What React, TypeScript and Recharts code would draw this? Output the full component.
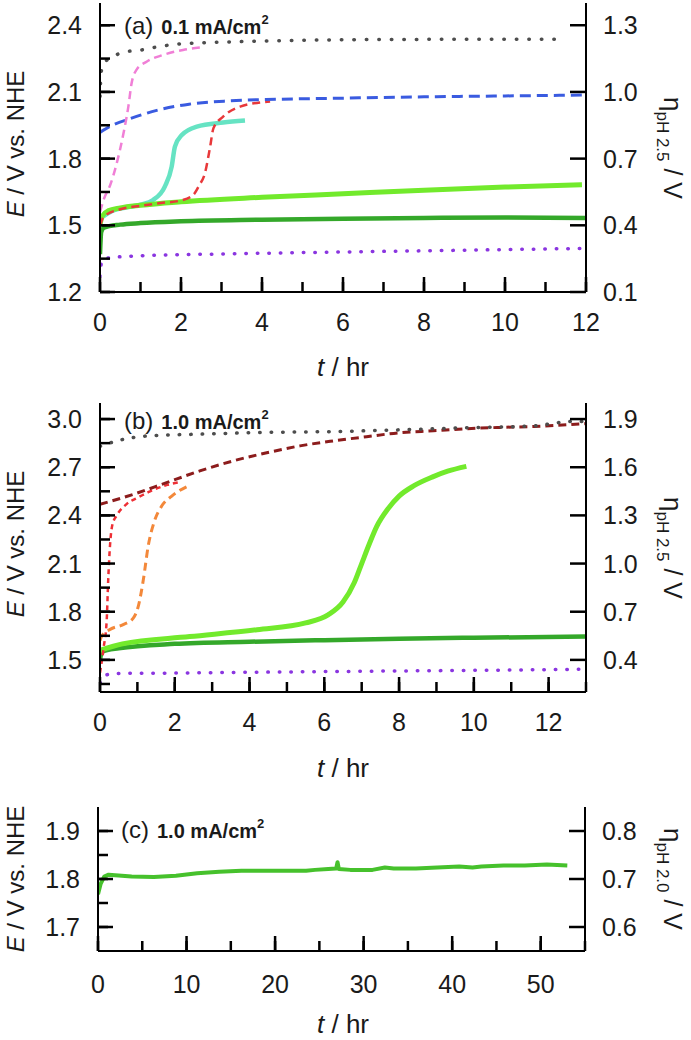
import React from 'react';
import { LineChart, Line, XAxis, YAxis } from 'recharts';

const FONT = '"Liberation Sans", Arial, Helvetica, sans-serif';
type Pt = [number, number];

// ---------- Panel (a) 0.1 mA/cm2 ----------
const aXTicks = [0, 1, 2, 3, 4, 5, 6, 7, 8, 9, 10, 11, 12];
const aXLabels = [0, 2, 4, 6, 8, 10, 12];
const aYTicks = [1.2, 1.35, 1.5, 1.65, 1.8, 1.95, 2.1, 2.25, 2.4];
const aYLabels = [1.2, 1.5, 1.8, 2.1, 2.4];
const aRTicks = [0.1, 0.4, 0.7, 1.0, 1.3];

const aGray: Pt[] = [[0, 2.08], [0.03, 2.19], [0.1, 2.23], [0.3, 2.256], [0.6, 2.28], [1.0, 2.288], [1.4, 2.302], [1.9, 2.315], [2.7, 2.322], [3.4, 2.326], [4.3, 2.33], [7.1, 2.336], [11.4, 2.337]];
const aPink: Pt[] = [[0, 1.56], [0.1, 1.62], [0.25, 1.68], [0.4, 1.77], [0.58, 1.914], [0.7, 2.034], [0.78, 2.139], [0.9, 2.199], [1.15, 2.236], [1.55, 2.266], [2.05, 2.289], [2.5, 2.3]];
const aBlue: Pt[] = [[0, 1.918], [0.3, 1.95], [0.75, 1.98], [1.4, 2.017], [2.2, 2.045], [3.2, 2.06], [4.4, 2.067], [6, 2.072], [8, 2.078], [10, 2.082], [12, 2.086]];
const aRed: Pt[] = [[0, 1.5], [0.1, 1.54], [0.5, 1.572], [1, 1.588], [1.5, 1.6], [2, 1.612], [2.3, 1.636], [2.45, 1.68], [2.59, 1.734], [2.72, 1.854], [2.8, 1.936], [3.04, 1.989], [3.46, 2.034], [4.2, 2.057]];
const aCyan: Pt[] = [[0, 1.53], [0.3, 1.565], [0.7, 1.582], [1.0, 1.593], [1.31, 1.614], [1.6, 1.674], [1.77, 1.764], [1.85, 1.854], [2.02, 1.906], [2.39, 1.944], [3.04, 1.962], [3.58, 1.971]];
const aLime: Pt[] = [[0, 1.5], [0.05, 1.54], [0.2, 1.565], [0.5, 1.578], [1, 1.59], [2, 1.606], [4, 1.626], [6, 1.642], [8, 1.658], [10, 1.672], [11.9, 1.682]];
const aGreen: Pt[] = [[0, 1.37], [0.03, 1.47], [0.1, 1.49], [0.5, 1.503], [1, 1.51], [2, 1.518], [4, 1.525], [6, 1.53], [8, 1.533], [10, 1.535], [12, 1.533]];
const aPurple: Pt[] = [[0, 1.27], [0.05, 1.345], [0.3, 1.355], [1, 1.363], [3, 1.371], [6, 1.38], [9, 1.388], [11.9, 1.396]];

// ---------- Panel (b) 1.0 mA/cm2 ----------
const bXTicks = [0, 1, 2, 3, 4, 5, 6, 7, 8, 9, 10, 11, 12, 13];
const bXLabels = [0, 2, 4, 6, 8, 10, 12];
const bYTicks = [1.35, 1.5, 1.65, 1.8, 1.95, 2.1, 2.25, 2.4, 2.55, 2.7, 2.85, 3.0];
const bYLabels = [1.5, 1.8, 2.1, 2.4, 2.7, 3.0];
const bRTicks = [0.4, 0.7, 1.0, 1.3, 1.6, 1.9];

const bGray: Pt[] = [[0, 2.83], [0.45, 2.864], [1.34, 2.896], [2.67, 2.906], [4.46, 2.917], [6.24, 2.922], [8.02, 2.933], [9.8, 2.946], [11.6, 2.958], [12.65, 2.985], [13, 2.985]];
const bMaroon: Pt[] = [[0, 2.469], [0.89, 2.531], [1.78, 2.604], [2.67, 2.677], [3.57, 2.74], [4.46, 2.79], [5.35, 2.833], [6.24, 2.864], [7.13, 2.89], [8.02, 2.915], [8.91, 2.927], [9.8, 2.94], [10.7, 2.948], [11.6, 2.954], [13, 2.972]];
const bRed: Pt[] = [[0, 1.42], [0.1, 1.58], [0.18, 1.75], [0.22, 2.0], [0.27, 2.22], [0.33, 2.34], [0.45, 2.4], [0.71, 2.47], [1.0, 2.51], [1.34, 2.55], [1.8, 2.59], [2.14, 2.608]];
const bOrange: Pt[] = [[0, 1.62], [0.05, 1.65], [0.27, 1.69], [0.62, 1.72], [0.89, 1.76], [1.02, 1.83], [1.16, 2.0], [1.29, 2.21], [1.45, 2.36], [1.65, 2.458], [1.92, 2.52], [2.4, 2.588]];
const bLime: Pt[] = [[0, 1.56], [0.6, 1.6], [2.4, 1.645], [4.2, 1.688], [5.5, 1.73], [6.1, 1.78], [6.5, 1.86], [6.8, 1.98], [7.0, 2.1], [7.2, 2.22], [7.4, 2.33], [7.7, 2.44], [8.0, 2.52], [8.4, 2.585], [8.9, 2.64], [9.3, 2.675], [9.8, 2.705]];
const bGreen: Pt[] = [[0, 1.5], [0.05, 1.55], [0.5, 1.572], [2, 1.6], [4, 1.613], [6, 1.623], [8, 1.632], [10, 1.638], [13, 1.645]];
const bPurple: Pt[] = [[0, 1.356], [0.1, 1.4], [0.4, 1.415], [2, 1.418], [5, 1.425], [8, 1.431], [11, 1.437], [13, 1.442]];

// ---------- Panel (c) 1.0 mA/cm2 ----------
const cXTicks = [0, 5, 10, 15, 20, 25, 30, 35, 40, 45, 50, 55];
const cXLabels = [0, 10, 20, 30, 40, 50];
const cYTicks = [1.7, 1.75, 1.8, 1.85, 1.9];
const cYLabels = [1.7, 1.8, 1.9];
const cRTicks = [0.6, 0.7, 0.8];

const cGreen: Pt[] = [[0, 1.768], [0.3, 1.79], [0.7, 1.805], [1.2, 1.809], [3.8, 1.805], [6.3, 1.804], [8.8, 1.807], [11.2, 1.812], [13.7, 1.815], [16.2, 1.817], [21, 1.817], [23.5, 1.817], [24.5, 1.819], [26, 1.821], [26.9, 1.822], [27.05, 1.835], [27.2, 1.821], [28.5, 1.819], [31, 1.819], [32.4, 1.824], [33.4, 1.822], [35.9, 1.822], [38.3, 1.824], [40.8, 1.826], [42.3, 1.824], [43.3, 1.826], [45.8, 1.828], [48.2, 1.828], [50.7, 1.83], [53, 1.828]];

const toData = (pts: Pt[]) => pts.map(([t, E]) => ({ t, E }));

const MINOR = 10; // native inward tick length
const MAJOR = 15;
const TICKW = 2.5;
const ts = { fontFamily: FONT, fontSize: 25, fill: '#1a1a1a' } as const;

type Side = 'left' | 'right' | 'bottom';
// x,y from recharts = inner end of the native (inward) tick line
const mkTick = (side: Side, labels: number[], fmt: (v: number) => string, labelGap = 30) => (props: any) => {
  const x = Number(props.x);
  const y = Number(props.y);
  const v = Number(props.payload.value);
  const lab = labels.some((l) => Math.abs(l - v) < 1e-6);
  if (side === 'left') {
    const edge = x - MINOR;
    return (
      <g>
        {lab && <line x1={edge} y1={y} x2={edge + MAJOR} y2={y} stroke="#000" strokeWidth={TICKW} />}
        {lab && <text x={edge - 18} y={y} dy="0.36em" textAnchor="end" {...ts}>{fmt(v)}</text>}
      </g>
    );
  }
  if (side === 'right') {
    const edge = x + 16;
    return (
      <g>
        <text x={edge + 17} y={y} dy="0.36em" textAnchor="start" {...ts}>{fmt(v)}</text>
      </g>
    );
  }
  const edge = y + MINOR;
  return (
    <g>
      {lab && <line x1={x} y1={edge} x2={x} y2={edge - MAJOR} stroke="#000" strokeWidth={TICKW} />}
      {lab && <text x={x} y={edge + labelGap} dy="0.36em" textAnchor="middle" {...ts}>{fmt(v)}</text>}
    </g>
  );
};

const f1 = (v: number) => v.toFixed(1);
const f0 = (v: number) => String(Math.round(v));

interface S { pts: Pt[]; color: string; w: number; dash?: string; round?: boolean; linear?: boolean }

interface PanelProps {
  top: number; height: number; mTop: number; xH: number; leftW: number; rightW: number;
  xDomain: [number, number]; xTicks: number[]; xLabels: number[]; xGap?: number;
  yDomain: [number, number]; yTicks: number[]; yLabels: number[];
  rDomain: [number, number]; rTicks: number[];
  series: S[];
}

const axisLine = { stroke: '#000', strokeWidth: 2 };
const tickLine = { stroke: '#000', strokeWidth: TICKW };

function Panel(p: PanelProps) {
  return (
    <div style={{ position: 'absolute', left: 0, top: p.top }}>
      <LineChart width={691} height={p.height} margin={{ top: p.mTop, right: 0, bottom: 0, left: 0 }}>
        <XAxis dataKey="t" type="number" domain={p.xDomain} ticks={p.xTicks} interval={0}
          allowDataOverflow tickLine={tickLine} tickSize={-MINOR} tickMargin={0} height={p.xH}
          axisLine={axisLine} tick={mkTick('bottom', p.xLabels, f0, p.xGap)} />
        <XAxis xAxisId="top" orientation="top" dataKey="t" type="number" domain={p.xDomain}
          allowDataOverflow tick={false} tickLine={false} height={0} axisLine={axisLine} />
        <YAxis yAxisId="l" dataKey="E" type="number" domain={p.yDomain} ticks={p.yTicks} interval={0}
          allowDataOverflow width={p.leftW} tickLine={tickLine} tickSize={-MINOR} tickMargin={0}
          axisLine={axisLine} tick={mkTick('left', p.yLabels, f1)} />
        <YAxis yAxisId="r" orientation="right" type="number" domain={p.rDomain} ticks={p.rTicks} interval={0}
          allowDataOverflow width={p.rightW} tickLine={tickLine} tickSize={-16} tickMargin={0}
          axisLine={axisLine} tick={mkTick('right', p.rTicks, f1)} />
        {p.series.map((s, i) => (
          <Line key={i} yAxisId="l" data={toData(s.pts)} dataKey="E" type={s.linear ? 'linear' : 'monotone'}
            stroke={s.color} strokeWidth={s.w} strokeDasharray={s.dash} strokeLinecap={s.round ? 'round' : 'butt'}
            strokeLinejoin="round" dot={false} activeDot={false} isAnimationActive={false} />
        ))}
      </LineChart>
    </div>
  );
}

const titleStyle = { fontFamily: FONT, fontSize: 25, fill: '#1a1a1a' } as const;

function LeftTitle({ cy }: { cy: number }) {
  return (
    <text x={24} y={cy} transform={`rotate(-90, 24, ${cy})`} textAnchor="middle" {...titleStyle} fontSize={24}>
      <tspan fontStyle="italic">E</tspan> / V vs. NHE
    </text>
  );
}

function RightTitle({ cy, ph }: { cy: number; ph: string }) {
  return (
    <text x={664} y={cy} transform={`rotate(90, 664, ${cy})`} textAnchor="middle" {...titleStyle} fontSize={26}>
      η<tspan fontSize={17} dy={7}>{`pH ${ph}`}</tspan><tspan dy={-7} fontSize={25}> / V</tspan>
    </text>
  );
}

function XTitle({ cy }: { cy: number }) {
  return (
    <text x={343} y={cy} dy="0.36em" textAnchor="middle" {...titleStyle} fontSize={26}>
      <tspan fontStyle="italic">t</tspan> / hr
    </text>
  );
}

function PanelLabel({ x, cy, tag, cur }: { x: number; cy: number; tag: string; cur: string }) {
  return (
    <text x={x} y={cy} dy="0.36em" {...titleStyle} fontSize={24}>
      {`(${tag})`}
      <tspan fontSize={20} fontWeight="bold" dx={8}>{`${cur} mA/cm`}</tspan>
      <tspan fontSize={13} fontWeight="bold" dy={-10}>2</tspan>
    </text>
  );
}

export default function App() {
  return (
    <div style={{ position: 'absolute', left: 0, top: 0, width: 691, height: 1040, background: '#fff', overflow: 'hidden' }}>
      <Panel top={0} height={390} mTop={3} xH={98} leftW={100} rightW={105}
        xDomain={[0, 12]} xTicks={aXTicks} xLabels={aXLabels}
        yDomain={[1.2, 2.5]} yTicks={aYTicks} yLabels={aYLabels}
        rDomain={[0.1, 1.4]} rTicks={aRTicks}
        series={[
          { pts: aPurple, color: '#8a35e0', w: 3.5, dash: '0.5 11', round: true },
          { pts: aGreen, color: '#34a82a', w: 4.5 },
          { pts: aCyan, color: '#66e3c3', w: 4.5 },
          { pts: aLime, color: '#72ea2c', w: 5 },
          { pts: aRed, color: '#e8383a', w: 2.5, dash: '8 5' },
          { pts: aBlue, color: '#3a5be0', w: 3, dash: '11 6' },
          { pts: aPink, color: '#f07fd6', w: 2.5, dash: '8 5' },
          { pts: aGray, color: '#4d4d4d', w: 3.5, dash: '0.5 12', round: true },
        ]} />
      <Panel top={390} height={400} mTop={13} xH={98} leftW={100} rightW={105}
        xDomain={[0, 13]} xTicks={bXTicks} xLabels={bXLabels}
        yDomain={[1.3, 3.1]} yTicks={bYTicks} yLabels={bYLabels}
        rDomain={[0.2, 2.0]} rTicks={bRTicks}
        series={[
          { pts: bPurple, color: '#8a35e0', w: 3.5, dash: '0.5 11', round: true },
          { pts: bGreen, color: '#34a82a', w: 4.5 },
          { pts: bLime, color: '#72ea2c', w: 5 },
          { pts: bOrange, color: '#f3883a', w: 3, dash: '8 5' },
          { pts: bRed, color: '#ee2f35', w: 2.5, dash: '5 4' },
          { pts: bMaroon, color: '#8c1c1c', w: 3, dash: '8 5' },
          { pts: bGray, color: '#4d4d4d', w: 3.5, dash: '0.5 11', round: true },
        ]} />
      <Panel top={790} height={250} mTop={17} xH={89} leftW={98} rightW={106} xGap={33}
        xDomain={[0, 55]} xTicks={cXTicks} xLabels={cXLabels}
        yDomain={[1.65, 1.95]} yTicks={cYTicks} yLabels={cYLabels}
        rDomain={[0.55, 0.85]} rTicks={cRTicks}
        series={[
          { pts: cGreen, color: '#46c12c', w: 4, linear: true },
        ]} />
      <svg width={691} height={1040} style={{ position: 'absolute', left: 0, top: 0, pointerEvents: 'none' }}>
        <LeftTitle cy={144} />
        <LeftTitle cy={544} />
        <LeftTitle cy={879} />
        <RightTitle cy={148} ph="2.5" />
        <RightTitle cy={548} ph="2.5" />
        <RightTitle cy={879} ph="2.0" />
        <XTitle cy={367} />
        <XTitle cy={768} />
        <XTitle cy={1024} />
        <PanelLabel x={124} cy={25} tag="a" cur="0.1" />
        <PanelLabel x={124} cy={420} tag="b" cur="1.0" />
        <PanelLabel x={121} cy={829} tag="c" cur="1.0" />
      </svg>
    </div>
  );
}
